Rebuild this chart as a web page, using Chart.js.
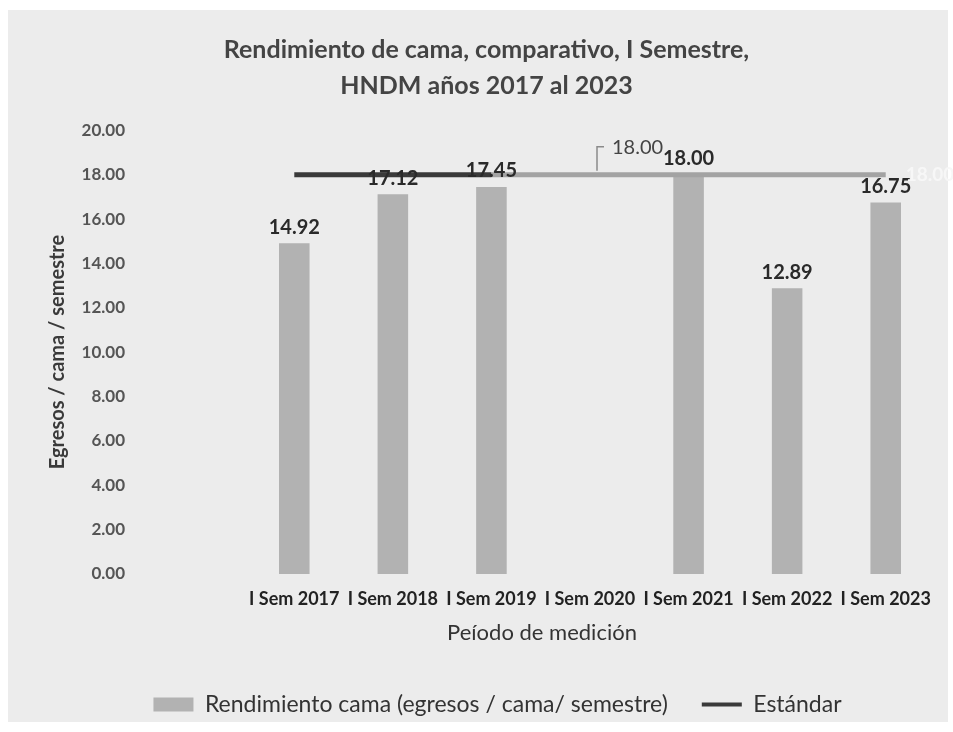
<!DOCTYPE html>
<html>
<head>
<meta charset="utf-8">
<script src="https://cdn.jsdelivr.net/npm/chart.js@4.4.1/dist/chart.umd.min.js"></script>
<style>
    html, body { margin:0; padding:0; background:#ffffff; }
    #wrap { width:953px; height:732px; }
</style>
</head>
<body>
<div id="wrap"><canvas id="chartCama" width="953" height="732"></canvas></div>
<script>
/*
==========================================
DATOS
==========================================
*/

const periodos = [
    "I Sem 2017",
    "I Sem 2018",
    "I Sem 2019",
    "I Sem 2020",
    "I Sem 2021",
    "I Sem 2022",
    "I Sem 2023"
];

const rendimiento = [14.92, 17.12, 17.45, null, 18.00, 12.89, 16.75];

const estandar = [18, 18, 18, 18, 18, 18, 18];

const yTicks = [0, 2, 4, 6, 8, 10, 12, 14, 16, 18, 20];

const FONT = "Lato, 'Open Sans', sans-serif";

/*
==========================================
PLUGINS
==========================================
*/

const fondo = {
    id:"fondo",
    beforeDraw(chart){
        const ctx = chart.ctx;
        ctx.save();
        ctx.fillStyle = "#ffffff";
        ctx.fillRect(0, 0, chart.width, chart.height);
        ctx.fillStyle = "#ececec";
        ctx.fillRect(8, 10, 940, 712);
        ctx.restore();
    }
};

// corre leyenda y titulo un poco a la derecha, como en el original
const moverCajas = {
    id:"moverCajas",
    afterLayout(chart){
        if(chart.legend){
            chart.legend.left += 20;
            chart.legend.right += 20;
        }
        if(chart.titleBlock){
            chart.titleBlock.left += 9;
            chart.titleBlock.right += 9;
        }
    }
};

const etiquetas = {
    id:"etiquetas",
    afterDatasetsDraw(chart){
        const ctx = chart.ctx;
        ctx.save();

        // valores sobre las barras
        const barras = chart.getDatasetMeta(0);
        ctx.textAlign = "center";
        ctx.textBaseline = "bottom";
        barras.data.forEach((bar, i) => {
            const v = rendimiento[i];
            if(v === null) return;
            ctx.font = "bold 20px " + FONT;
            ctx.fillStyle = "#2a2a2a";
            ctx.fillText(v.toFixed(2), bar.x, bar.y - 6);
        });

        // etiqueta del estandar con linea guia
        const linea = chart.getDatasetMeta(1);
        const p = linea.data[3];
        ctx.strokeStyle = "#8a8a8a";
        ctx.lineWidth = 1.5;
        ctx.beginPath();
        ctx.moveTo(p.x + 7, p.y - 4);
        ctx.lineTo(p.x + 7, p.y - 28);
        ctx.lineTo(p.x + 14, p.y - 28);
        ctx.stroke();
        ctx.font = "20px " + FONT;
        ctx.fillStyle = "#444444";
        ctx.textAlign = "left";
        ctx.textBaseline = "middle";
        ctx.fillText(estandar[3].toFixed(2), p.x + 22, p.y - 27);

        // etiqueta desvanecida al final
        const q = linea.data[6];
        ctx.font = "bold 19px " + FONT;
        ctx.fillStyle = "#f7f7f7";
        ctx.fillText(estandar[6].toFixed(2), q.x + 20, q.y);

        // titulos de ejes
        ctx.fillStyle = "#333333";
        ctx.textAlign = "center";
        ctx.font = "22px " + FONT;
        ctx.fillText("Peíodo de medición", 542, 633);

        ctx.translate(58, 352);
        ctx.rotate(-Math.PI / 2);
        ctx.font = "bold 20px " + FONT;
        ctx.fillStyle = "#3a3a3a";
        ctx.fillText("Egresos / cama / semestre", 0, 0);

        ctx.restore();
    }
};

/*
==========================================
GRAFICA
==========================================
*/

const canvas = document.getElementById("chartCama");

const chartCama = new Chart(canvas, {
    data:{
        labels:periodos,
        datasets:[
            {
                type:"bar",
                label:"Rendimiento cama (egresos / cama/ semestre)",
                data:rendimiento,
                backgroundColor:"#b2b2b2",
                barPercentage:0.31,
                categoryPercentage:1,
                order:2
            },
            {
                type:"line",
                label:"Estándar",
                data:estandar,
                borderColor:"#3a3a3a",
                borderWidth:5,
                pointRadius:0,
                segment:{
                    borderColor:ctx => ctx.p0DataIndex < 2 ? "#3a3a3a" : "#a3a3a3"
                },
                order:1
            }
        ]
    },
    options:{
        responsive:false,
        animation:false,
        layout:{
            padding:{ left:20, right:18, top:8, bottom:6 }
        },
        plugins:{
            title:{
                display:true,
                text:[
                    "Rendimiento de cama, comparativo, I Semestre,",
                    "HNDM años 2017 al 2023"
                ],
                color:"#444444",
                font:{ family:FONT, size:25, weight:"bold", lineHeight:1.45 },
                padding:{ top:24, bottom:26 }
            },
            legend:{
                position:"bottom",
                labels:{
                    usePointStyle:true,
                    pointStyleWidth:40,
                    boxHeight:14,
                    padding:34,
                    color:"#333333",
                    font:{ family:FONT, size:23 },
                    sort:(a, b) => a.datasetIndex - b.datasetIndex,
                    generateLabels(chart){
                        const items = Chart.defaults.plugins.legend.labels.generateLabels(chart);
                        items.forEach(item => {
                            if(item.datasetIndex === 0){
                                item.pointStyle = "rect";
                                item.fillStyle = "#b2b2b2";
                                item.strokeStyle = "#b2b2b2";
                                item.lineWidth = 0;
                            } else {
                                item.pointStyle = "line";
                                item.fillStyle = "#3a3a3a";
                                item.strokeStyle = "#3a3a3a";
                                item.lineWidth = 4;
                            }
                        });
                        return items;
                    }
                }
            },
            tooltip:{ enabled:false }
        },
        scales:{
            x:{
                grid:{ display:false },
                border:{ display:false },
                ticks:{
                    color:"#222222",
                    font:{ family:FONT, size:18, weight:"bold" },
                    maxRotation:0,
                    autoSkip:false,
                    padding:6
                },
                afterFit(scale){ scale.height = 85; }
            },
            y:{
                min:0,
                max:20,
                grid:{ display:false },
                border:{ display:false },
                afterBuildTicks(scale){
                    scale.ticks = yTicks.map(v => ({ value:v }));
                },
                ticks:{
                    color:"#555555",
                    font:{ family:FONT, size:17, weight:"bold" },
                    padding:112,
                    callback:v => Number(v).toFixed(2)
                },
                afterFit(scale){ scale.width = 225; }
            }
        }
    },
    plugins:[fondo, moverCajas, etiquetas]
});
</script>
</body>
</html>
